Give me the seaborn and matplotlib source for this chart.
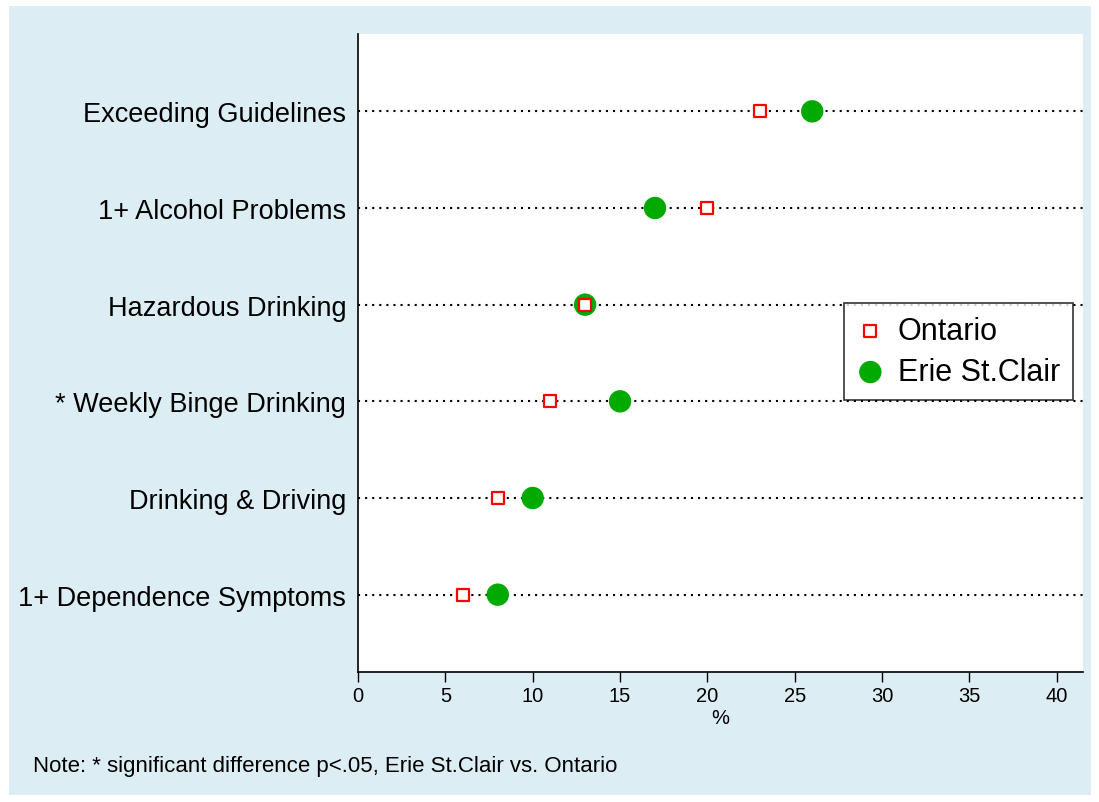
import pandas as pd
import matplotlib.pyplot as plt
import matplotlib.patches as mpatches
import seaborn as sns

categories = ["Exceeding Guidelines", "1+ Alcohol Problems", "Hazardous Drinking",
              "* Weekly Binge Drinking", "Drinking & Driving", "1+ Dependence Symptoms"]
ontario = [23, 20, 13, 11, 8, 6]
erie = [26, 17, 13, 15, 10, 8]

df = pd.DataFrame({"measure": categories, "Ontario": ontario, "Erie St.Clair": erie})

sns.set_style('white')
plt.rcParams['font.family'] = ['Liberation Sans', 'DejaVu Sans']
plt.rcParams['text.color'] = 'black'
plt.rcParams['xtick.color'] = 'black'
plt.rcParams['ytick.color'] = 'black'
plt.rcParams['axes.labelcolor'] = 'black'

fig = plt.figure(figsize=(10.99, 8.03), dpi=100)
fig.patches.append(mpatches.Rectangle((9/1099, 7/803), 1082/1099, 789/803,
                                      transform=fig.transFigure, facecolor='#ddedf4',
                                      edgecolor='none', zorder=-10))
ax = fig.add_axes([358/1099, 1 - 673/803, 725/1099, 638/803])
ax.set_facecolor('white')

sns.scatterplot(data=df, x="Erie St.Clair", y="measure", ax=ax, marker='o', s=260,
                color='#00aa00', edgecolor='none', label="Erie St.Clair", zorder=3)
sns.scatterplot(data=df, x="Ontario", y="measure", ax=ax, marker='s', s=70,
                facecolor='white', edgecolor='#ff0000', linewidth=1.6, label="Ontario", zorder=4)

ax.set_xlim(0, 41.5)
ax.set_ylim(5.8, -0.8)
ax.set_xticks(range(0, 45, 5))
ax.set_ylabel("")
ax.set_xlabel("%", fontsize=14.5, labelpad=2)
ax.grid(axis='y', color='black', linestyle=(0, (1, 2.4)), linewidth=1.5)
ax.grid(axis='x', visible=False)
ax.set_axisbelow(True)

for s in ['top', 'right']:
    ax.spines[s].set_visible(False)
for s in ['left', 'bottom']:
    ax.spines[s].set_color('black')
    ax.spines[s].set_linewidth(1.2)
ax.tick_params(axis='x', bottom=True, length=7, width=1, labelsize=14.5, pad=3)
ax.tick_params(axis='y', left=False, labelsize=19.5, pad=5)

handles, labels = ax.get_legend_handles_labels()
leg = ax.legend(handles[::-1], labels[::-1], loc='upper left',
                bbox_to_anchor=(0.670, 0.578), borderaxespad=0,
                fontsize=22, frameon=True, fancybox=False, borderpad=0.42,
                handlelength=0.9, handletextpad=0.45, labelspacing=0.36)
leg.get_frame().set_edgecolor('black')
leg.get_frame().set_linewidth(1.2)

fig.text(33/1099, 1 - 767/803, "Note: * significant difference p<.05, Erie St.Clair vs. Ontario",
         fontsize=16, va='center', ha='left')

fig.savefig("out.png", dpi=100)
